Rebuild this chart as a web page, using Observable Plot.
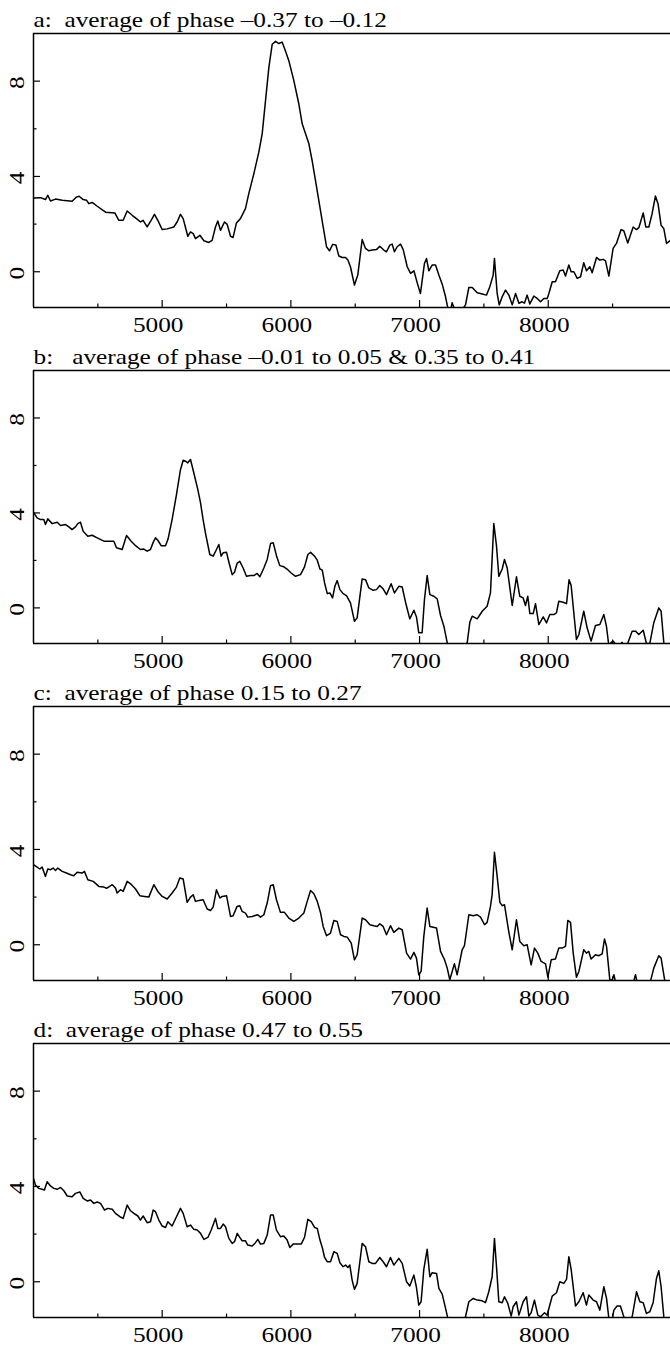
<!DOCTYPE html>
<html><head><meta charset="utf-8">
<script src="https://cdn.jsdelivr.net/npm/d3@7"></script>
<script src="https://cdn.jsdelivr.net/npm/@observablehq/plot@0.6"></script>
<style>
html,body{margin:0;padding:0;background:#fff;overflow:hidden;}
#chart svg{display:block;}
#chart svg text{white-space:pre;font-family:"Liberation Serif","Times New Roman",serif;}
</style></head><body><div id="chart"></div>
<script>
const titles = [
  "a:  average of phase \u20130.37 to \u20130.12",
  "b:   average of phase \u20130.01 to 0.05 & 0.35 to 0.41",
  "c:  average of phase 0.15 to 0.27",
  "d:  average of phase 0.47 to 0.55"
];
const xDomain = [4000, 8950];
const yDomain = [-1.5, 10];
const xMajor = [5000, 6000, 7000, 8000];
const xMinor = [4500, 5500, 6500, 7500, 8500];
const yMajor = [0, 4, 8];
const yMinor = [2, 6];

const waveA = [4000,4054,4093,4111,4132,4171,4223,4300,4334,4355,4386,4412,4430,4456,4495,4560,4632,4663,4697,4728,4767,4800,4832,4852,4883,4914,4940,4966,5000,5039,5090,5116,5142,5163,5199,5220,5241,5259,5293,5324,5362,5388,5414,5432,5453,5484,5505,5531,5551,5577,5608,5647,5673,5712,5751,5777,5803,5829,5855,5881,5907,5932,5958,5984,6023,6062,6088,6114,6140,6165,6191,6217,6251,6277,6300,6325,6350,6373,6399,6425,6443,6463,6494,6520,6554,6580,6606,6632,6665,6691,6722,6743,6769,6787,6805,6826,6852,6873,6904,6930,6956,6987,7007,7038,7054,7072,7098,7124,7150,7176,7202,7220,7235,7253,7279,7305,7331,7357,7383,7409,7448,7487,7520,7546,7572,7582,7603,7619,7642,7668,7694,7720,7746,7772,7797,7815,7836,7857,7888,7914,7940,7966,7992,8005,8031,8056,8090,8116,8134,8160,8178,8199,8225,8251,8276,8297,8323,8341,8375,8401,8427,8445,8471,8504,8530,8566,8587,8618,8660,8686,8704,8738,8758,8782,8807,8833,8854,8877,8898,8919,8950];
const fluxA = [3.10,3.11,3.03,3.21,2.97,3.05,3.00,2.96,3.14,3.17,3.03,3.00,2.86,2.91,2.75,2.50,2.47,2.16,2.16,2.55,2.37,2.23,2.09,2.16,1.88,2.16,2.41,2.16,1.77,1.80,1.88,2.09,2.41,2.23,1.49,1.67,1.60,1.39,1.53,1.30,1.23,1.32,1.88,2.13,1.74,2.09,1.99,1.49,1.44,2.05,2.23,2.65,3.28,4.11,5.02,5.79,7.18,8.58,9.55,9.67,9.58,9.64,9.27,8.86,8.02,7.04,6.21,5.79,5.37,4.67,3.84,3.00,1.88,1.05,0.88,1.15,1.12,0.66,0.60,0.60,0.49,0.21,-0.56,-0.14,1.35,0.98,0.88,0.91,0.93,1.07,0.91,0.84,1.12,1.16,0.84,1.05,1.16,0.93,0.21,-0.07,0.04,-0.56,-0.91,0.35,0.56,0.04,0.28,0.28,-0.14,-0.52,-1.05,-1.53,-1.8,-1.30,-1.67,-2.0,-1.6,-1.39,-0.66,-0.66,-0.88,-0.93,-0.98,-0.63,-0.14,0.56,-0.91,-1.39,-1.05,-0.77,-0.98,-1.39,-0.91,-1.32,-1.26,-1.32,-0.98,-1.35,-1.02,-1.12,-1.26,-1.12,-1.12,-0.91,-0.42,-0.42,0.04,0.07,-0.18,0.28,0.00,0.00,-0.28,-0.21,0.38,0.04,0.21,-0.04,0.60,0.49,0.52,0.46,-0.18,0.98,1.19,1.77,1.72,1.21,1.88,1.77,1.85,2.47,1.88,1.88,2.44,3.18,2.83,1.95,1.81,1.19,1.32];

const waveB = [4000,4028,4054,4080,4093,4111,4145,4184,4210,4249,4275,4300,4326,4344,4365,4386,4422,4456,4495,4547,4624,4645,4689,4723,4759,4793,4831,4857,4883,4909,4930,4948,4966,4992,5026,5046,5077,5111,5142,5163,5181,5199,5220,5246,5277,5298,5318,5336,5370,5396,5422,5440,5458,5474,5500,5520,5544,5562,5583,5603,5629,5655,5686,5712,5738,5759,5790,5816,5842,5863,5888,5914,5945,5976,6002,6036,6075,6106,6132,6153,6184,6205,6226,6244,6262,6283,6303,6324,6342,6360,6381,6406,6432,6463,6494,6515,6554,6580,6606,6640,6665,6691,6717,6743,6779,6805,6839,6865,6891,6924,6956,6976,6994,7020,7038,7059,7080,7111,7137,7163,7189,7215,7240,7331,7370,7391,7409,7448,7487,7525,7551,7577,7598,7616,7642,7660,7681,7720,7753,7779,7805,7823,7841,7857,7883,7901,7927,7961,7987,8012,8043,8064,8082,8116,8142,8162,8178,8219,8238,8276,8302,8333,8367,8401,8432,8452,8471,8489,8504,8515,8540,8574,8600,8652,8678,8704,8738,8763,8789,8820,8859,8877,8898,8911,8950];
const fluxB = [4.03,3.79,3.72,3.72,3.51,3.75,3.55,3.61,3.47,3.51,3.41,3.30,3.41,3.55,3.61,3.23,3.02,3.06,2.95,2.81,2.81,2.53,2.46,3.05,2.81,2.62,2.46,2.48,2.39,2.46,2.76,2.95,2.85,2.62,2.62,2.91,3.72,4.77,5.82,6.22,6.18,6.11,6.25,5.68,4.98,4.42,3.72,3.16,2.25,2.18,2.46,2.67,2.18,2.32,2.34,1.89,1.40,1.50,1.89,1.96,1.68,1.33,1.36,1.36,1.45,1.31,1.68,2.04,2.71,2.74,2.20,1.78,1.73,1.61,1.47,1.33,1.40,1.73,2.25,2.34,2.18,2.01,1.64,1.59,1.05,0.60,0.63,0.42,0.91,1.15,0.77,0.60,0.52,0.21,-0.56,-0.42,1.22,1.19,0.84,0.74,0.77,0.94,0.80,0.56,1.02,0.63,0.91,0.88,0.24,-0.46,-0.10,-0.38,-1.05,-1.05,0.35,1.36,0.56,0.49,0.38,-0.32,-0.77,-1.47,-2.2,-2.3,-1.47,-0.60,-0.35,-0.46,-0.14,0.07,0.63,3.55,2.60,1.33,1.64,2.04,1.68,0.10,1.31,0.49,0.42,0.10,0.49,-0.24,-0.24,0.18,-0.70,-0.38,-0.63,-0.28,-0.28,-0.21,0.28,0.24,0.18,1.19,0.94,-1.33,-1.12,-0.14,-0.84,-1.40,-0.74,-0.70,-0.28,-0.77,-1.6,-1.45,-1.40,-1.47,-1.7,-1.45,-1.75,-0.98,-0.98,-1.12,-0.94,-1.50,-1.50,-0.63,0.00,-0.14,-1.47,-2.2,-2.3];

const waveC = [4000,4028,4049,4067,4093,4111,4132,4153,4171,4189,4223,4256,4288,4313,4339,4378,4396,4422,4464,4508,4547,4568,4612,4637,4650,4676,4697,4728,4754,4793,4826,4862,4896,4935,4966,5000,5039,5077,5111,5137,5163,5194,5220,5241,5259,5285,5318,5350,5375,5396,5422,5448,5466,5500,5531,5551,5582,5603,5621,5647,5665,5699,5743,5764,5790,5816,5842,5863,5888,5919,5950,5984,6023,6062,6101,6127,6153,6179,6205,6231,6251,6277,6307,6334,6360,6386,6412,6438,6469,6494,6515,6554,6580,6614,6645,6671,6691,6717,6743,6774,6800,6839,6865,6899,6930,6956,6976,6994,7012,7033,7059,7080,7132,7163,7194,7215,7235,7271,7292,7331,7349,7383,7417,7448,7474,7505,7525,7551,7564,7582,7603,7624,7642,7660,7694,7720,7753,7779,7810,7836,7867,7893,7919,7945,7979,7997,8023,8056,8082,8108,8134,8152,8173,8194,8219,8238,8276,8297,8315,8333,8367,8393,8419,8437,8453,8479,8497,8510,8522,8560,8660,8678,8700,8782,8820,8859,8877,8898,8920,8950];
const fluxC = [3.36,3.26,3.18,3.26,2.87,3.18,3.15,3.22,3.12,3.22,3.08,3.01,2.94,2.90,3.04,3.01,3.08,2.73,2.66,2.45,2.42,2.37,2.52,2.38,2.17,2.31,2.24,2.66,2.56,2.34,2.06,2.03,2.00,2.52,2.24,2.03,1.92,2.17,2.42,2.80,2.76,1.78,2.00,2.10,1.82,1.86,1.89,1.50,1.44,1.58,2.31,1.96,2.03,2.06,1.19,1.22,1.61,1.64,1.40,1.33,1.16,1.19,1.26,1.16,1.26,1.75,2.48,2.52,1.89,1.36,1.36,1.12,0.98,1.12,1.33,1.82,2.28,2.14,1.82,1.33,0.77,0.38,0.48,1.02,0.98,0.42,0.35,0.32,0.07,-0.63,-0.42,1.12,1.05,0.84,0.80,0.77,0.88,0.77,0.42,0.80,0.52,0.70,0.63,-0.35,-0.60,-0.32,-0.56,-1.26,-1.12,0.35,1.54,0.77,0.70,-0.28,-0.63,-0.98,-1.47,-0.80,-1.26,-0.21,-0.04,1.26,1.22,1.26,1.16,0.84,0.94,1.61,2.10,3.88,2.87,1.78,1.64,1.68,0.52,-0.21,1.05,0.14,-0.04,0.00,-0.84,-0.14,-0.35,-0.70,-0.80,-1.36,-0.63,-0.60,-0.14,-0.14,-0.07,1.02,0.94,-0.35,-1.36,-1.12,-0.21,-0.35,-0.28,-0.60,-0.42,-0.46,-0.38,0.24,-0.07,-1.50,-1.47,-1.26,-1.54,-1.75,-1.6,-1.26,-1.8,-1.8,-0.98,-0.46,-0.56,-1.26,-2.0,-2.0];

const waveD = [4000,4015,4041,4067,4085,4106,4132,4158,4184,4210,4236,4262,4300,4326,4360,4386,4417,4443,4469,4495,4521,4552,4578,4612,4637,4671,4697,4728,4754,4780,4811,4831,4852,4883,4909,4930,4948,4974,5000,5026,5044,5077,5111,5142,5163,5194,5220,5246,5272,5298,5324,5355,5381,5414,5432,5453,5474,5492,5518,5544,5562,5583,5603,5621,5647,5665,5699,5725,5743,5764,5790,5816,5842,5863,5888,5919,5945,5971,5992,6018,6049,6080,6106,6132,6158,6184,6205,6226,6244,6262,6283,6308,6334,6360,6381,6406,6425,6443,6458,6476,6494,6515,6554,6580,6606,6632,6658,6691,6717,6743,6774,6800,6839,6865,6899,6924,6956,6976,6994,7012,7033,7059,7080,7098,7132,7150,7176,7202,7220,7250,7330,7357,7383,7417,7448,7487,7512,7538,7564,7582,7598,7616,7642,7660,7686,7712,7727,7753,7772,7805,7831,7849,7867,7893,7919,7940,7971,7992,8005,8031,8064,8090,8121,8142,8160,8178,8212,8238,8271,8297,8315,8349,8375,8401,8432,8453,8471,8490,8510,8535,8561,8587,8620,8652,8686,8712,8738,8763,8789,8815,8841,8859,8877,8898,8920,8950];
const fluxD = [4.34,4.06,3.92,3.88,3.85,4.20,4.02,3.92,3.88,3.96,3.82,3.60,3.57,3.71,3.77,3.50,3.39,3.43,3.29,3.35,3.29,3.01,3.08,3.04,2.87,2.73,2.66,3.22,2.98,2.87,2.76,2.59,2.76,2.48,2.52,3.01,2.94,2.59,2.34,2.28,2.52,2.34,2.73,3.08,2.87,2.31,2.38,2.20,2.17,2.03,1.78,1.86,2.17,2.66,2.24,2.24,2.42,2.31,1.82,1.61,1.68,2.03,1.86,1.72,1.72,1.54,1.50,1.64,1.78,1.58,1.61,1.96,2.80,2.80,2.17,1.89,1.92,1.75,1.44,1.58,1.58,1.58,1.86,2.62,2.52,2.28,2.24,1.75,1.44,1.02,0.84,0.84,1.26,1.19,0.80,0.63,0.70,0.60,0.70,0.07,-0.32,-0.07,1.61,1.47,0.84,0.77,0.77,1.02,0.84,0.63,1.02,0.70,0.98,0.77,0.00,-0.18,0.28,-0.24,-0.98,-0.84,0.52,1.36,0.21,0.38,0.35,-0.28,-0.52,-1.12,-1.54,-2.2,-2.2,-1.47,-0.84,-0.70,-0.77,-0.80,-0.88,-0.42,0.21,1.82,0.63,-0.84,-0.88,-0.63,-0.91,-1.44,-1.05,-0.84,-1.40,-0.84,-0.63,-1.44,-1.30,-0.77,-1.40,-1.47,-1.30,-1.40,-1.12,-0.60,-0.46,0.00,-0.07,0.10,1.05,0.52,-1.02,-0.84,-0.46,-0.98,-0.56,-0.77,-0.84,-1.19,-0.21,-0.70,-1.54,-1.8,-1.19,-1.02,-1.02,-1.47,-2.0,-1.47,-0.42,-0.84,-0.88,-1.33,-1.26,-0.88,0.14,0.46,-0.21,-1.47,-2.2,-2.2];

const panels = [
  {title: titles[0], wave: waveA, flux: fluxA, height: 337},
  {title: titles[1], wave: waveB, flux: fluxB, height: 336},
  {title: titles[2], wave: waveC, flux: fluxC, height: 337},
  {title: titles[3], wave: waveD, flux: fluxD, height: 337}
];

const FONT = "Liberation Serif";
const STRETCH = 1.15;
const marginTop = 33, marginBottom = 30, marginLeft = 33, marginRight = 0, W = 670;
const root = document.getElementById("chart");

for (const p of panels) {
  const data = p.wave.map((w, i) => ({w, f: p.flux[i]}));
  const plotH = p.height - marginTop - marginBottom;
  const plotW = W - marginLeft - marginRight;
  const svg = Plot.plot({
    width: W,
    height: p.height,
    marginTop, marginBottom, marginLeft, marginRight,
    style: {background: "#fff", color: "#000", overflow: "visible"},
    x: {domain: xDomain, axis: null},
    y: {domain: yDomain, axis: null},
    marks: [
      Plot.line(data, {x: "w", y: "f", stroke: "#000", strokeWidth: 1.5, clip: true}),
      Plot.tickX(xMajor, {x: d => d, stroke: "#000", strokeWidth: 1.2, insetTop: plotH - 7}),
      Plot.tickX(xMinor, {x: d => d, stroke: "#000", strokeWidth: 1.2, insetTop: plotH - 3.5}),
      Plot.tickY(yMajor, {y: d => d, stroke: "#000", strokeWidth: 1.2, insetRight: plotW - 7}),
      Plot.tickY(yMinor, {y: d => d, stroke: "#000", strokeWidth: 1.2, insetRight: plotW - 3.5}),
      Plot.ruleY([yDomain[1]], {stroke: "#000", strokeWidth: 1.5}),
      Plot.ruleY([yDomain[0]], {stroke: "#000", strokeWidth: 1.5}),
      Plot.ruleX([xDomain[0]], {stroke: "#000", strokeWidth: 1.5}),
      Plot.text(xMajor, {x: d => d, frameAnchor: "bottom", lineAnchor: "top", dy: 9, dx: -4, text: d => String(d), fontSize: 22, fontFamily: FONT, fill: "#000"}),
      Plot.text(yMajor, {y: d => d, frameAnchor: "left", dx: -17, dy: 1.5, rotate: -90, textAnchor: "middle", lineAnchor: "middle", text: d => String(d), fontSize: 22, fontFamily: FONT, fill: "#000"}),
      Plot.text([p.title], {frameAnchor: "top-left", textAnchor: "start", lineAnchor: "bottom", dy: -7, text: d => d, fontSize: 22, fontFamily: FONT, fill: "#000"})
    ]
  });
  root.appendChild(svg);
  // widen glyphs horizontally to match the reference's wide serif lettering
  svg.querySelectorAll("text").forEach(t => {
    const len = t.getComputedTextLength();
    if (len > 0) {
      t.setAttribute("textLength", (len * STRETCH).toFixed(1));
      t.setAttribute("lengthAdjust", "spacingAndGlyphs");
    }
  });
}
</script>
</body></html>
